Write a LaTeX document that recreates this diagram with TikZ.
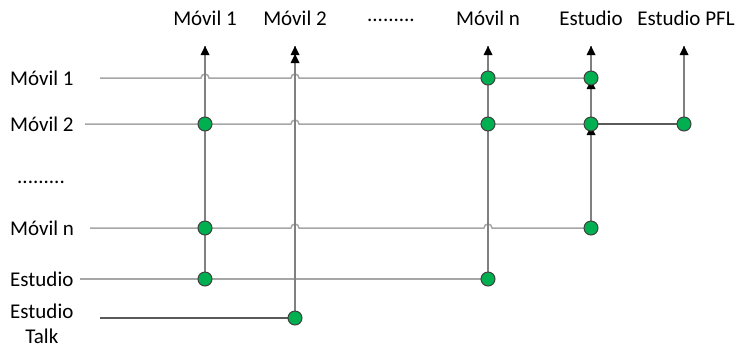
\documentclass[tikz,border=0pt]{standalone}
\usepackage{fontspec}
\setmainfont{Carlito}
\usetikzlibrary{arrows.meta}

\definecolor{dotgreen}{RGB}{0,176,80}
\definecolor{rowgray}{RGB}{166,166,166}
\definecolor{colgray}{RGB}{128,128,128}
\definecolor{linkgray}{RGB}{90,90,90}

\tikzset{
    dot/.style={circle, fill=dotgreen, draw=black!75, line width=1pt, minimum size=14pt, inner sep=0pt},
    lbl/.style={font=\fontsize{21}{25}\selectfont, inner sep=0pt},
    row/.style={draw=rowgray, line width=1.5pt},
    tip/.style={fill=black, draw=none},
    col/.style={draw=colgray, line width=1.3pt},
    link/.style={draw=linkgray, line width=1.3pt}
}

\begin{document}
\begin{tikzpicture}[x=1pt,y=-1pt]
            \useasboundingbox (0,0) rectangle (738,349);
            \foreach \c/\x in {A/205,B/295,C/488,D/591,E/684}{
                \coordinate (\c0) at (\x,46);
                \foreach \r/\y in {1/78,2/124,n/228,e/279,t/318}
                    \coordinate (\c\r) at (\x,\y);
            }
            \coordinate (s1) at (100,78);
            \coordinate (s2) at (85,124);
            \coordinate (sn) at (90,228);
            \coordinate (se) at (80,279);
            \coordinate (st) at (100,318);
            % column labels
            \node[lbl] (mA) at (205,18) {Móvil 1};
            \node[lbl] (mB) at (295,18) {Móvil 2};
            \node[lbl] (mdots) at (391,20) {.........};
            \node[lbl] (mC) at (488,18) {Móvil n};
            \node[lbl] (mD) at (591,18) {Estudio};
            \node[lbl] (mE) at (686,18) {Estudio PFL};
            % row labels
            \node[lbl, anchor=west] (l1) at (10,78) {Móvil 1};
            \node[lbl, anchor=west] (l2) at (10,124) {Móvil 2};
            \node[lbl, anchor=west] (ldots) at (17,182) {.........};
            \node[lbl, anchor=west] (ln) at (10,228) {Móvil n};
            \node[lbl, anchor=west] (le) at (10,279) {Estudio};
            \node[lbl, anchor=west, align=center] (lt) at (10,324) {Estudio\\Talk};
            % rows
            \draw[row] (s1) -- ([xshift=-4pt]A1) arc[start angle=180, end angle=0, radius=4pt]
                -- ([xshift=-4pt]B1) arc[start angle=180, end angle=0, radius=4pt] -- (D1);
            \draw[row] (s2) -- ([xshift=-4pt]B2) arc[start angle=180, end angle=0, radius=4pt] -- (D2);
            \draw[row] (sn) -- ([xshift=-4pt]Bn) arc[start angle=180, end angle=0, radius=4pt]
                -- ([xshift=-4pt]Cn) arc[start angle=180, end angle=0, radius=4pt] -- (Dn);
            \draw[row] (se) -- (Ce);
            \draw[link] (D2) -- (E2);
            \draw[link] (st) -- (Bt);
            % columns
            \draw[col] (Ae) -- (A0);
            \draw[col] (Bt) -- (B0);
            \draw[col] (Ce) -- (C0);
            \draw[col] (Dn) -- (D0);
            \draw[col] (E2) -- (E0);
            % arrow heads
            \foreach \p/\s in {A0/0,B0/0,B0/8,C0/0,D0/0,E0/0,D1/2,D2/2}
                \fill[tip] ([yshift=-\s pt]\p) -- ++(-4.5pt,-9pt) -- ++(9pt,0) -- cycle;
            \foreach \p in {A2,An,Ae,Bt,C1,C2,Ce,D1,D2,Dn,E2}
                \node[dot] (dot\p) at (\p) {};
\end{tikzpicture}
\end{document}
